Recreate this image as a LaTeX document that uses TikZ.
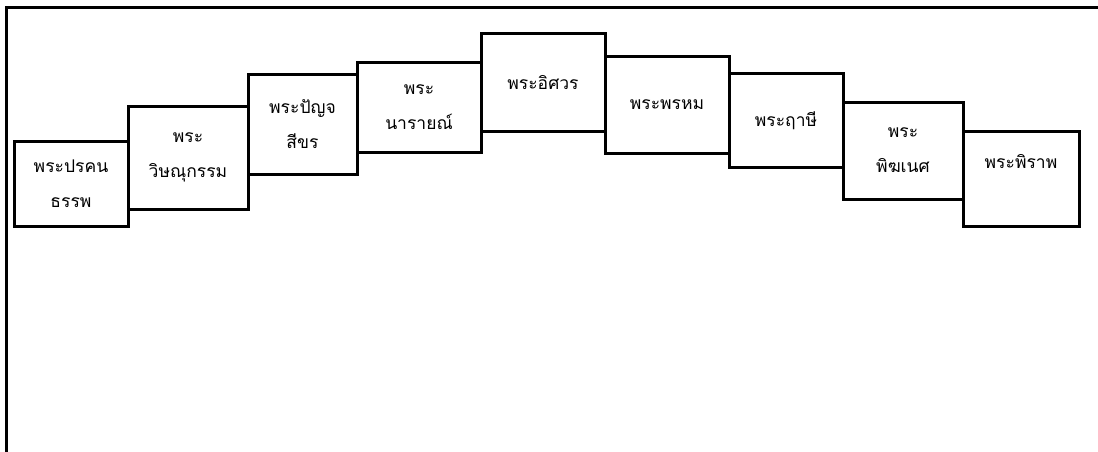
\documentclass[tikz,border=0pt]{standalone}
\usepackage{fontspec}
\newfontfamily\thaifont[Script=Thai]{Loma}
\usetikzlibrary{positioning}

\begin{document}
\begin{tikzpicture}[x=1pt, y=-1pt,
        godbox/.style={rectangle, draw=black, line width=3pt, outer sep=0pt, inner sep=0pt, fill=white,
                anchor=north west, align=center, font=\thaifont\fontsize{17.5}{35}\selectfont},
        frameline/.style={draw=black, line width=3pt},
]
        \useasboundingbox (0,0) rectangle (1098,452);
        \draw[frameline] (6,452) -- (6,7.5) -- (1098,7.5);

        \node[godbox, minimum width=114pt, minimum height=85pt] (parakhon) at (14,141) {พระปรคน\\ธรรพ};
        \node[godbox, minimum width=120pt, minimum height=103pt] (witsanu) [right=0pt of parakhon.north east, anchor=north west, yshift=35pt] {พระ\\วิษณุกรรม};
        \node[godbox, minimum width=109pt, minimum height=99pt] (panchasi) [right=0pt of witsanu.north east, anchor=north west, yshift=31pt] {พระปัญจ\\สีขร};
        \node[godbox, minimum width=124pt, minimum height=89pt] (narai) [right=0pt of panchasi.north east, anchor=north west, yshift=12pt] {พระ\\นารายณ์};
        \node[godbox, minimum width=124pt, minimum height=97pt] (isuan) [right=0pt of narai.north east, anchor=north west, yshift=29pt] {พระอิศวร};
        \node[godbox, minimum width=124pt, minimum height=96pt] (phrom) [right=0pt of isuan.north east, anchor=north west, yshift=-23pt] {พระพรหม};
        \node[godbox, minimum width=114pt, minimum height=93pt] (ruesi) [right=0pt of phrom.north east, anchor=north west, yshift=-17pt] {พระฤาษี};
        \node[godbox, minimum width=120pt, minimum height=97pt] (phikhanet) [right=0pt of ruesi.north east, anchor=north west, yshift=-28pt] {พระ\\พิฆเนศ};
        \node[godbox, minimum width=116pt, minimum height=95pt] (phirap) [right=0pt of phikhanet.north east, anchor=north west, yshift=-29pt] {พระพิราพ\\~};
\end{tikzpicture}
\end{document}
